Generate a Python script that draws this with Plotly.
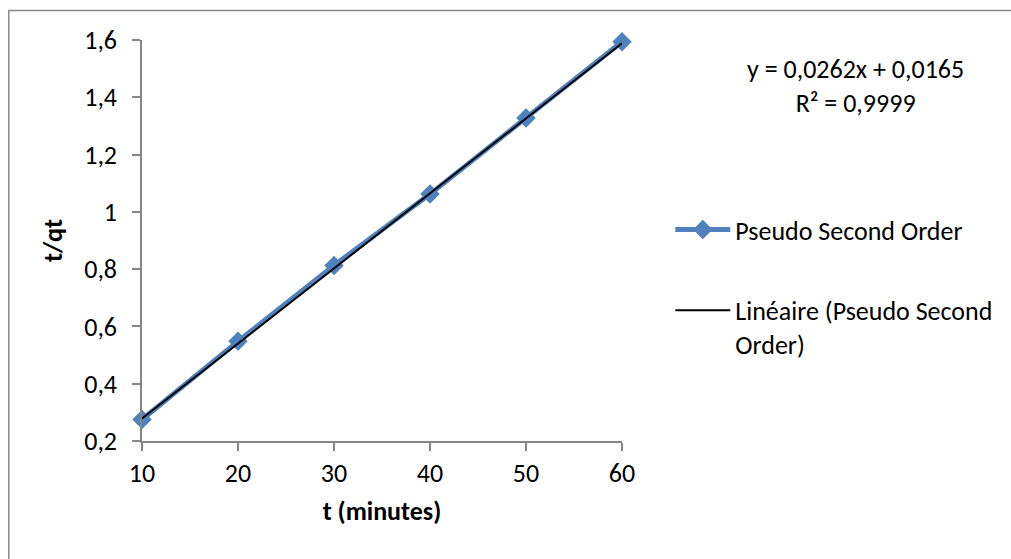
import plotly.graph_objects as go

# Data
t_minutes = [10, 20, 30, 40, 50, 60]
t_over_qt = [0.275, 0.548, 0.813, 1.062, 1.328, 1.594]
slope = 0.0262
intercept = 0.0165
x_ticks = [10, 20, 30, 40, 50, 60]
y_ticks = [0.2, 0.4, 0.6, 0.8, 1.0, 1.2, 1.4, 1.6]
y_tick_labels = ["0,2", "0,4", "0,6", "0,8", "1", "1,2", "1,4", "1,6"]
series_name = "Pseudo Second Order"
trend_name = "Linéaire (Pseudo Second<br>Order)"
equation_text = "y = 0,0262x + 0,0165<br>R² = 0,9999"

trend_x = [min(t_minutes), max(t_minutes)]
trend_y = [slope * v + intercept for v in trend_x]

FONT = "Carlito, Lato, sans-serif"
FS = 26
BLUE = "#4F81BD"
AXIS = "#868686"

W, H = 1011, 559
L, R, T, B = 141.7, W - 621.7, 40, H - 440.7
pw, ph = W - L - R, H - T - B

def px2x(px):
    return (px - L) / pw

def py2y(py):
    return (H - B - py) / ph

fig = go.Figure()
fig.add_trace(go.Scatter(
    x=t_minutes, y=t_over_qt, mode="lines+markers", name=series_name,
    line=dict(color=BLUE, width=5),
    marker=dict(symbol="diamond", size=15, color=BLUE),
    legendgroup="a", cliponaxis=False,
))
fig.add_trace(go.Scatter(
    x=trend_x, y=trend_y, mode="lines", name=trend_name,
    line=dict(color="black", width=2),
    legendgroup="b", cliponaxis=False,
))

fig.update_layout(
    width=W, height=H,
    margin=dict(l=L, r=R, t=T, b=B, pad=0),
    paper_bgcolor="white", plot_bgcolor="white",
    font=dict(family=FONT, size=FS, color="black"),
    showlegend=True,
    legend=dict(
        x=px2x(670), y=py2y(206), xanchor="left", yanchor="top",
        font=dict(family=FONT, size=FS, color="black"),
        itemwidth=55, tracegroupgap=44, traceorder="grouped",
        valign="top",
        bgcolor="rgba(0,0,0,0)",
    ),
    xaxis=dict(
        range=[10, 60], tickvals=x_ticks, ticktext=[str(v) for v in x_ticks],
        showgrid=False, zeroline=False, showline=True, linecolor=AXIS, linewidth=1.5,
        ticks="outside", ticklen=8, tickcolor=AXIS, tickwidth=1.5,
        tickfont=dict(family=FONT, size=FS),
        title=dict(text="<b>t (minutes)</b>", font=dict(family=FONT, size=FS), standoff=14),
    ),
    yaxis=dict(
        range=[0.2, 1.6], tickvals=y_ticks, ticktext=y_tick_labels,
        showgrid=False, zeroline=False, showline=True, linecolor=AXIS, linewidth=1.5,
        ticks="outside", ticklen=8, tickcolor=AXIS, tickwidth=1.5,
        tickfont=dict(family=FONT, size=FS), ticklabelstandoff=10,
        title=dict(text="<b>t/qt</b>", font=dict(family=FONT, size=FS), standoff=14),
    ),
    annotations=[dict(
        x=px2x(855), y=py2y(86), xref="paper", yref="paper",
        xanchor="center", yanchor="middle",
        text=equation_text, showarrow=False, align="center",
        font=dict(family=FONT, size=FS, color="black"),
    )],
    shapes=[
        dict(type="line", xref="paper", yref="paper",
             x0=px2x(8.5), x1=px2x(8.5), y0=py2y(10), y1=py2y(H + 5),
             line=dict(color="#898989", width=1.5)),
        dict(type="line", xref="paper", yref="paper",
             x0=px2x(8), x1=px2x(W + 5), y0=py2y(10.5), y1=py2y(10.5),
             line=dict(color="#898989", width=1.5)),
    ],
)

fig.write_html(
    "out.html",
    config={"displayModeBar": False},
    post_script="document.body.style.margin='0';document.body.style.overflow='hidden';",
)
